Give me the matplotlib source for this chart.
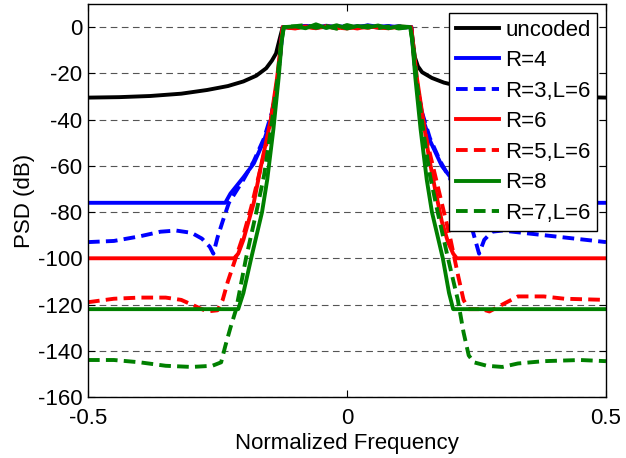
import matplotlib
matplotlib.use('Agg')
import matplotlib.pyplot as plt

plt.rcParams['font.family'] = ['Liberation Sans', 'DejaVu Sans']

# passband (shared frequency points)
pass_f = [-0.12, -0.1, -0.08, -0.06, -0.04, -0.02, 0.0, 0.02, 0.04, 0.06, 0.08, 0.1, 0.12]
pass_uncoded = [0.3, -0.2, 0.4, -0.1, 0.2, -0.3, 0.3, 0.0, 0.4, -0.2, 0.2, -0.1, 0.3]
pass_r4 = [1.5, 0.0, 0.5, -0.3, 0.6, 0.0, 0.4, -0.2, 0.8, 0.1, 0.5, -0.2, 0.2]
pass_r3 = [0.8, -0.2, 0.3, 0.2, -0.1, 0.5, -0.3, 0.4, 0.0, 0.3, -0.1, 0.4, 0.0]
pass_r6 = [0.2, -0.6, 0.3, -0.4, 0.2, -0.5, 0.1, -0.6, 0.3, -0.2, -0.5, 0.2, -0.3]
pass_r5 = [0.0, -0.4, 0.1, -0.5, 0.4, -0.2, -0.6, 0.2, -0.3, 0.1, -0.4, 0.0, -0.3]
pass_r8 = [-0.8, 0.3, -0.5, 1.2, -0.4, 0.8, -0.6, 0.5, -0.2, 0.7, -0.5, 0.4, -0.3]
pass_r7 = [-0.5, 0.4, 0.9, -0.3, 0.5, -0.7, 0.9, -0.2, 0.6, -0.4, 0.3, -0.6, -0.2]

# uncoded
unc_left_f = [-0.5, -0.44, -0.38, -0.32, -0.27, -0.23, -0.2, -0.175, -0.156, -0.145, -0.137, -0.131, -0.127, -0.124]
unc_left_db = [-30.5, -30.3, -29.8, -28.8, -27.2, -25.5, -23.5, -21.0, -17.8, -14.5, -11.4, -6.0, -2.5, 0.0]
unc_right_f = [0.124, 0.127, 0.131, 0.137, 0.145, 0.164, 0.187, 0.22, 0.26, 0.31, 0.37, 0.44, 0.5]
unc_right_db = [0.0, -6.0, -13.0, -17.0, -19.5, -22.0, -24.0, -25.8, -27.3, -28.6, -29.5, -30.2, -30.5]

# R=4
r4_left_f = [-0.5, -0.235, -0.225, -0.2, -0.18, -0.16, -0.147, -0.135, -0.128, -0.124]
r4_left_db = [-76, -76, -72, -65, -59, -49, -40, -25, -10, 0]
r4_right_f = [0.124, 0.128, 0.135, 0.147, 0.16, 0.183, 0.2, 0.225, 0.235, 0.5]
r4_right_db = [0, -10, -25, -40, -49, -60, -65, -72, -76, -76]

# R=3,L=6
r3_left_f = [-0.5, -0.45, -0.4, -0.36, -0.33, -0.3, -0.28, -0.265, -0.258, -0.25, -0.24, -0.228, -0.2, -0.18, -0.16, -0.145, -0.135, -0.128, -0.124]
r3_left_db = [-93, -92.5, -90.5, -88.5, -88, -89, -91.5, -95, -98, -91, -84, -76, -66, -58, -48, -37, -25, -10, 0]
r3_right_f = [0.124, 0.128, 0.135, 0.145, 0.16, 0.18, 0.2, 0.22, 0.24, 0.255, 0.265, 0.28, 0.3, 0.34, 0.38, 0.42, 0.46, 0.5]
r3_right_db = [0, -10, -25, -37, -48, -58, -66, -74, -86, -98, -92, -88.5, -88, -89, -90, -91, -92, -93]

# R=6
r6_left_f = [-0.5, -0.218, -0.21, -0.2, -0.19, -0.18, -0.166, -0.147, -0.135, -0.128, -0.124]
r6_left_db = [-100, -100, -98, -92, -84, -76, -60, -40, -22, -8, 0]
r6_right_f = [0.124, 0.128, 0.135, 0.147, 0.158, 0.17, 0.183, 0.195, 0.205, 0.212, 0.5]
r6_right_db = [0, -8, -22, -40, -56, -70, -84, -93, -98, -100, -100]

# R=5,L=6
r5_left_f = [-0.5, -0.45, -0.4, -0.35, -0.32, -0.29, -0.27, -0.25, -0.24, -0.23, -0.215, -0.2, -0.185, -0.17, -0.155, -0.14, -0.13, -0.124]
r5_left_db = [-119, -117.5, -117, -117, -118, -121, -123, -122.5, -118, -110, -100, -90, -78, -64, -50, -32, -15, 0]
r5_right_f = [0.124, 0.13, 0.14, 0.155, 0.17, 0.185, 0.2, 0.215, 0.225, 0.235, 0.26, 0.275, 0.3, 0.33, 0.38, 0.42, 0.5]
r5_right_db = [0, -15, -32, -50, -64, -78, -92, -108, -118, -122, -122, -123, -120, -116.5, -116.5, -117.5, -118]

# R=8
r8_left_f = [-0.5, -0.21, -0.2, -0.185, -0.164, -0.154, -0.142, -0.132, -0.126, -0.122]
r8_left_db = [-122, -122, -115, -100, -80, -66, -44, -22, -6, 0]
r8_right_f = [0.122, 0.126, 0.132, 0.142, 0.154, 0.164, 0.185, 0.197, 0.205, 0.5]
r8_right_db = [0, -6, -22, -44, -66, -80, -100, -115, -122, -122]

# R=7,L=6
r7_left_f = [-0.5, -0.45, -0.4, -0.35, -0.3, -0.26, -0.243, -0.235, -0.225, -0.214, -0.195, -0.175, -0.16, -0.148, -0.136, -0.128, -0.122]
r7_left_db = [-144, -144, -145, -146.5, -147, -146.5, -145, -138, -130, -122, -100, -80, -64, -46, -26, -8, 0]
r7_right_f = [0.122, 0.128, 0.136, 0.148, 0.16, 0.175, 0.195, 0.214, 0.225, 0.235, 0.245, 0.27, 0.3, 0.33, 0.38, 0.45, 0.5]
r7_right_db = [0, -8, -26, -46, -64, -80, -100, -118, -132, -142, -145, -146.5, -147, -145.5, -144.5, -144, -144.5]

labels = ['uncoded', 'R=4', 'R=3,L=6', 'R=6', 'R=5,L=6', 'R=8', 'R=7,L=6']

series = [
    (unc_left_f, unc_left_db, pass_uncoded, unc_right_f, unc_right_db, 'k', '-'),
    (r4_left_f, r4_left_db, pass_r4, r4_right_f, r4_right_db, '#0000ff', '-'),
    (r3_left_f, r3_left_db, pass_r3, r3_right_f, r3_right_db, '#0000ff', '--'),
    (r6_left_f, r6_left_db, pass_r6, r6_right_f, r6_right_db, '#ff0000', '-'),
    (r5_left_f, r5_left_db, pass_r5, r5_right_f, r5_right_db, '#ff0000', '--'),
    (r8_left_f, r8_left_db, pass_r8, r8_right_f, r8_right_db, '#008000', '-'),
    (r7_left_f, r7_left_db, pass_r7, r7_right_f, r7_right_db, '#008000', '--'),
]

fig = plt.figure(figsize=(6.26, 4.58), dpi=100)
ax = fig.add_axes([0.1406, 0.1332, 0.8274, 0.8581])

for (lf, ldb, pdb, rf, rdb, col, ls), lab in zip(series, labels):
    f = lf + pass_f[1:-1] + rf
    db = ldb + pdb[1:-1] + rdb
    line, = ax.plot(f, db, color=col, lw=2.8, linestyle=ls, label=lab)
    if ls == '--':
        line.set_dashes((3, 1.6))

ax.set_xlim(-0.5, 0.5)
ax.set_ylim(-160, 10)
ax.set_xticks([-0.5, 0, 0.5])
ax.set_xticklabels(['-0.5', '0', '0.5'])
ax.set_yticks(range(-160, 1, 20))
ax.set_yticklabels([str(v) for v in range(-160, 1, 20)])
ax.yaxis.grid(True, linestyle=(0, (6, 4)), color='#555555', lw=0.8)
ax.tick_params(direction='in', top=True, right=True, labelsize=16, length=5, pad=4)
ax.tick_params(axis='x', pad=8)
for s in ax.spines.values():
    s.set_linewidth(1.0)

ax.set_xlabel('Normalized Frequency', fontsize=16, labelpad=3)
ax.set_ylabel('PSD (dB)', fontsize=16, labelpad=2)

leg = ax.legend(loc='upper right', fontsize=16, handlelength=1.95, handletextpad=0.25,
                labelspacing=0.43, borderpad=0.3, borderaxespad=0.4, fancybox=False,
                framealpha=1, edgecolor='k')
leg.get_frame().set_linewidth(1.0)

fig.savefig('out.png', dpi=100)
